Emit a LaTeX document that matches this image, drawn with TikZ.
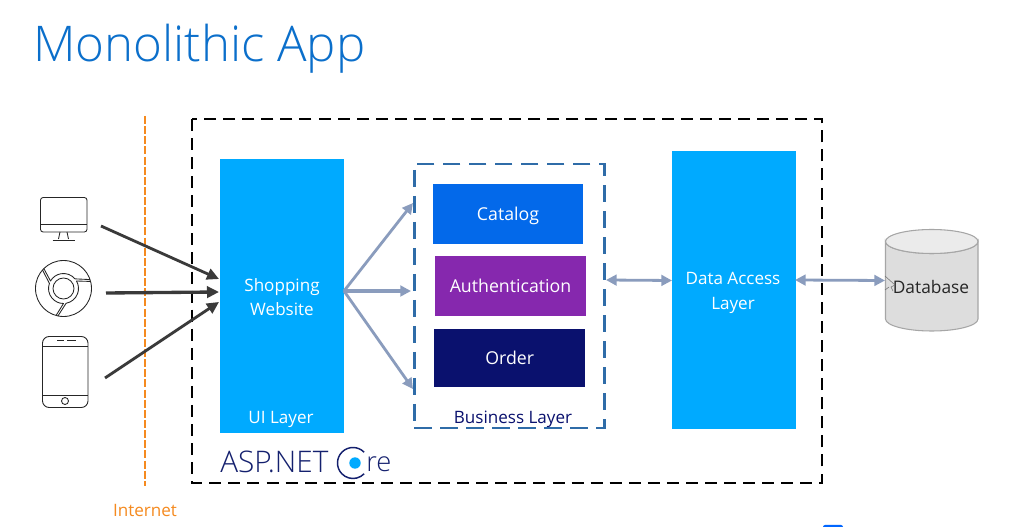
\documentclass[tikz,border=0pt]{standalone}
\usepackage{fontspec}
\setmainfont{Open Sans}
\newfontfamily\lightfont{Open Sans Light}
\usetikzlibrary{arrows.meta}
\definecolor{sky}{HTML}{00AAFF}
\definecolor{catalog}{HTML}{0369EA}
\definecolor{auth}{HTML}{8628AE}
\definecolor{ordercol}{HTML}{0A116E}
\definecolor{dashblue}{HTML}{2F6CA8}
\definecolor{arrowblue}{HTML}{8A9CBD}
\definecolor{inkdark}{HTML}{3A3A3A}
\definecolor{orangeline}{HTML}{F58A1F}
\definecolor{titleblue}{HTML}{0B6FCB}
\definecolor{navytext}{HTML}{14206E}
\definecolor{dbgray}{HTML}{DDDDDD}
\definecolor{dbtop}{HTML}{EBEBEB}
\definecolor{dbedge}{HTML}{A6A6A6}
\tikzset{
  blockbox/.style={fill=#1,draw=none,text=white,align=center,inner sep=0pt,font=\fontsize{13.3}{17}\selectfont},
  solidarrow/.style={draw=inkdark,line width=2.1pt,-{Triangle[length=9pt,width=8.5pt]}},
  bizarrow/.style={draw=arrowblue,line width=2.1pt,-{Triangle[length=8pt,width=8pt]}},
  bothwayarrow/.style={draw=arrowblue,line width=2.1pt,{Triangle[length=8pt,width=8pt]}-{Triangle[length=8pt,width=8pt]}},
  iconline/.style={draw=black!85,line width=0.65pt,line join=round},
  lbl/.style={inner sep=0pt,anchor=center}
}
\begin{document}
\begin{tikzpicture}[x=0.75pt,y=-0.75pt]
\useasboundingbox (0,0) rectangle (1026,527);
\fill[white] (0,0) rectangle (1026,527);

\node[inner sep=0pt,anchor=base west,text=titleblue,font=\lightfont\fontsize{36.9}{40}\selectfont] (title) at (33,62) {Monolithic App};

% frames
\draw[black,line width=1.7pt,dash pattern=on 9pt off 5.3pt] (192,119) rectangle (822,483);
\draw[orangeline,line width=1.6pt,dash pattern=on 6pt off 1.6pt] (145,116) -- (145,486);
\node[lbl,text=orangeline,font=\fontsize{12.8}{14}\selectfont] (internet) at (145,510) {Internet};

% blocks
\node[blockbox=sky,minimum width=93pt,minimum height=205.5pt] (ui) at (282,296) {};
\node[lbl,text=white,align=center,font=\fontsize{12.8}{17.8}\selectfont] (shop) at (282,297) {Shopping\\Website};
\node[lbl,text=white,font=\fontsize{12.8}{14}\selectfont] (uilabel) at (281,419) {UI Layer};

\node[draw=dashblue,line width=1.9pt,dash pattern=on 13pt off 6.5pt,minimum width=142.5pt,minimum height=198pt,inner sep=0pt,outer sep=0pt] (biz) at (509.25,296) {};
\node[blockbox=catalog,minimum width=112.8pt,minimum height=45pt] (catalog) at (508,214) {\smash{\raisebox{-5pt}{Catalog}}};
\node[blockbox=auth,minimum width=113pt,minimum height=45pt] (auth) at (510.5,286) {Authentication};
\node[blockbox=ordercol,minimum width=113pt,minimum height=43pt] (order) at (509.7,358) {Order};
\node[lbl,text=ordercol,font=\fontsize{12.8}{14}\selectfont] (bizlabel) at (513,419) {Business Layer};

\node[blockbox=sky,minimum width=93pt,minimum height=208pt] (dal) at (733.5,290) {};
\node[lbl,text=white,align=center,font=\fontsize{12.8}{18.2}\selectfont] (dallabel) at (733,293) {Data Access\\Layer};

% database
\path[draw=dbedge,fill=dbgray,line width=0.8pt] (885.5,241.5) -- (885.5,319) arc (180:0:46.25 and 12) -- (978,241.5) arc (0:180:46.25 and 12) -- cycle;
\path[draw=dbedge,fill=dbtop,line width=0.8pt] (931.75,241.5) ellipse (46.25 and 12);
\node[lbl,text=black!85,font=\fontsize{13}{15}\selectfont] (dblabel) at (931,287.5) {Database};

% ASP.NET Core
\node[inner sep=0pt,anchor=base west,text=navytext,font=\lightfont\fontsize{22.3}{24}\selectfont] (asp) at (220,473) {ASP.NET};
\coordinate (corec) at (353,463);
\draw[navytext,line width=1.1pt] (corec) ++(-44:15.5) arc (-44:-316:15.5);
\fill[sky] (corec) ++(2,0) circle (5.7);
\node[inner sep=0pt,anchor=base west,text=navytext,font=\lightfont\fontsize{20.5}{24}\selectfont] (re) at (366,472) {re};

% icon anchors
\coordinate (monitorout) at (101,226);
\coordinate (chromeout) at (106,293);
\coordinate (phoneout) at (105,378);
\coordinate (uia) at (219,279);
\coordinate (uib) at (219,292);
\coordinate (uic) at (219,302);
\draw[solidarrow] (monitorout) -- (uia);
\draw[solidarrow,line width=2.5pt] (chromeout) -- (uib);
\draw[solidarrow] (phoneout) -- (uic);

\begin{scope}[iconline]
% monitor
\draw[rounded corners=2] (40.5,197.5) rectangle (87,232);
\draw (40.5,224.5) -- (87,224.5);
\draw (60,232) -- (58.5,239) (67,232) -- (68.5,239);
\draw (52.5,240) -- (75,240);
% chrome
\coordinate (cc) at (63.5,288.5);
\draw (cc) circle (28);
\draw (cc) circle (10.5);
\foreach \a in {0,120,240}{
  \draw[shift={(cc)}] ({-18.6+\a}:28) -- ({-40+\a}:15) arc ({-40+\a}:{-150+\a}:15) -- ({-134.6+\a}:28);
}
% phone
\draw[rounded corners=5] (42.5,336.5) rectangle (88,407.5);
\draw (42.5,346.5) -- (88,346.5);
\draw (42.5,395) -- (88,395);
\draw (57,340.5) -- (64,340.5) (67,340.5) -- (76,340.5);
\draw (65,401) circle (3.5);
\end{scope}

% business arrows
\coordinate (bizA) at (413,203);
\coordinate (bizB) at (411,291);
\coordinate (bizC) at (413,389);
\coordinate (uiout) at (344,291);
\draw[bizarrow] (uiout) -- (bizA);
\draw[bizarrow,line width=2.6pt] (uiout) -- (bizB);
\draw[bizarrow] (uiout) -- (bizC);
\coordinate (bizR) at (606,280);
\coordinate (dalL) at (672,280.5);
\coordinate (dalR) at (795,280);
\coordinate (dbL) at (885,280.5);
\draw[bothwayarrow] (bizR) -- (dalL);
\draw[bothwayarrow] (dalR) -- (dbL);

% cursor
\draw[black!55,line width=0.4pt] (885,276) -- (895,285) -- (891,287) -- (893,291) (885,290) -- (889,287);

% bottom-edge mark
\fill[blue!60!cyan] (823,527.5) -- (823,527) arc (180:270:2) -- (841,525) arc (270:360:2) -- (843,527.5) -- cycle;
\end{tikzpicture}
\end{document}
